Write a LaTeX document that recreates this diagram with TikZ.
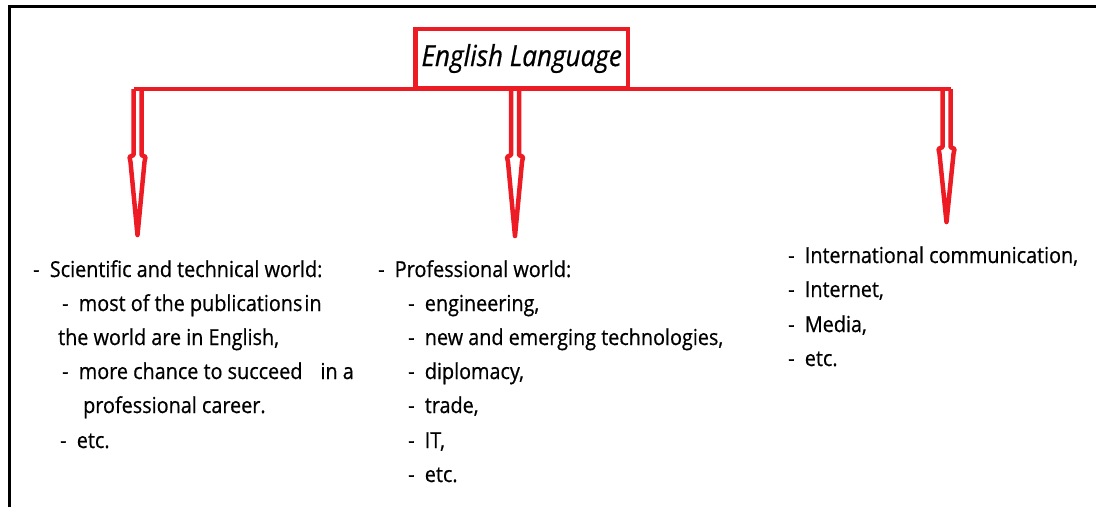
\documentclass[tikz,border=0pt]{standalone}
\usepackage{fontspec}
\setmainfont[FakeStretch=0.9, FakeBold=0.6]{Open Sans}
\usepackage{tikz}
\usetikzlibrary{positioning}
\definecolor{engred}{HTML}{ED1C24}

\tikzset{
  redline/.style={draw=engred, line width=4.5pt},
  titlebox/.style={draw=engred, line width=4.5pt, minimum width=212.5pt,
    minimum height=59pt, inner sep=0pt, font=\fontsize{29}{34}\selectfont\itshape},
  listline/.style={anchor=base west, inner sep=0pt, font=\fontsize{22}{26}\selectfont}
}

\begin{document}
\begin{tikzpicture}[x=1pt, y=-1pt]
        \useasboundingbox (0,0) rectangle (1096,507);
        % Frame
        \draw[line width=3pt] (9.5,507) -- (9.5,6.5) -- (1096,6.5);
        % Title
        \node[titlebox] (title) at (521.75,58.5) {English Language};
        % Bar and arrows
        \coordinate (sciTop) at (137.5,89);
        \coordinate (proTop) at (515,89);
        \coordinate (intTop) at (946.5,89);
        \draw[redline, line cap=square] ([xshift=-4pt]sciTop) -- ([xshift=4pt]intTop);
        \draw[redline, line join=round, shift={(sciTop)}] (-4,0) -- (-4,66) -- (-8,68) -- (-7,73) -- (0,146) -- (7,73) -- (8,68) -- (4,66) -- (4,0);
        \draw[redline, line join=round, shift={(proTop)}] (-4,0) -- (-4,66) -- (-8,68) -- (-7,73) -- (0,147) -- (7,73) -- (8,68) -- (4,66) -- (4,0);
        \draw[redline, line join=round, shift={(intTop)}] (-4,0) -- (-4,58) -- (-8,60) -- (-7,65) -- (0,133) -- (7,65) -- (8,60) -- (4,58) -- (4,0);
        % Left column
        \node[listline] (sci1) at (33,277) {-~~Scientific and technical world:};
        \node[listline] (sci2) at (62,311) {-~~most of the publications\hspace{2pt}in};
        \node[listline] (sci3) at (58,345) {the world are in English,};
        \node[listline] (sci4) at (62,379) {-~~more chance to succeed\hspace{18pt}in a};
        \node[listline] (sci5) at (83,413) {professional career.};
        \node[listline] (sci6) at (60,448) {-~~etc.};
        % Middle column
        \node[listline] (pro1) at (378,277) {-~~Professional world:};
        \node[listline] (pro2) at (408,311) {-~~engineering,};
        \node[listline] (pro3) at (408,345) {-~~new and emerging technologies,};
        \node[listline] (pro4) at (408,379) {-~~diplomacy,};
        \node[listline] (pro5) at (408,413) {-~~trade,};
        \node[listline] (pro6) at (408,448) {-~~IT,};
        \node[listline] (pro7) at (408,482) {-~~etc.};
        % Right column
        \node[listline] (int1) at (788,263) {-~~International communication,};
        \node[listline] (int2) at (788,297) {-~~Internet,};
        \node[listline] (int3) at (788,332) {-~~Media,};
        \node[listline] (int4) at (788,366) {-~~etc.};
\end{tikzpicture}
\end{document}
